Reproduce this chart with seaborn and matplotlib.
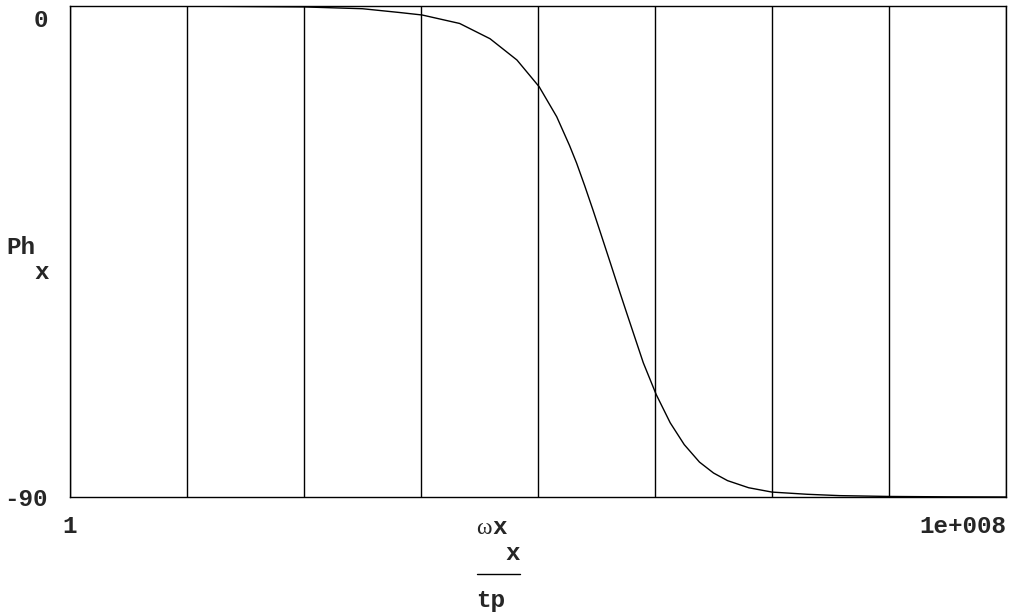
import numpy as np
import pandas as pd
import seaborn as sns
from matplotlib import pyplot as plt
from matplotlib.lines import Line2D
from matplotlib.transforms import ScaledTranslation

# phase curve (log10 of omega, degrees)
log_w = [0.0, 1.0, 2.0, 2.5, 2.82, 3.01, 3.33, 3.59, 3.82, 4.01, 4.16, 4.27, 4.33,
         4.40, 4.47, 4.53, 4.62, 4.70, 4.76, 4.83, 4.90, 5.01, 5.13, 5.25, 5.38,
         5.5, 5.62, 5.8, 6.0, 6.3, 6.58, 7.0, 7.5, 8.0]
phase = [0.0, -0.02, -0.17, -0.5, -1.2, -1.65, -3.2, -6.0, -9.9, -14.8, -20.3, -25.6, -28.8,
         -33.0, -37.4, -41.3, -47.2, -52.5, -56.4, -60.9, -65.4, -71.2, -76.4, -80.4, -83.6,
         -85.6, -87.0, -88.3, -89.1, -89.5, -89.75, -89.9, -89.97, -90.0]
x_ticks = [1, 10, 100, 1e3, 1e4, 1e5, 1e6, 1e7, 1e8]
x_ticklabels = ["1", "", "", "", "", "", "", "", "1e+008"]
y_ticks = [-90, 0]
y_ticklabels = ["-90", "0"]

df = pd.DataFrame({"w": np.power(10.0, log_w), "ph": phase})

sns.set_style("white")
plt.rcParams['font.family'] = ['Liberation Mono', 'DejaVu Sans']
fs = 17.5

fig = plt.figure(figsize=(10.1, 6.16), dpi=100)
ax = fig.add_axes([70/1010, (616-497)/616, 936/1010, 491/616])

sns.lineplot(data=df, x="w", y="ph", ax=ax, color="black", linewidth=1.0)
ax.set_xscale("log")
ax.set_xlim(1, 1e8)
ax.set_ylim(-90, 0)

ax.tick_params(axis="both", length=0)
ax.tick_params(axis="x", pad=13)
ax.tick_params(axis="y", pad=16)

ax.set_xticks(x_ticks)
ax.set_xticklabels(x_ticklabels, fontsize=fs, fontweight="bold")
ax.xaxis.set_minor_locator(plt.NullLocator())
labs = ax.get_xticklabels()
labs[-1].set_horizontalalignment("right")
ax.set_yticks(y_ticks)
ax.set_yticklabels(y_ticklabels, fontsize=fs, fontweight="bold")
# the top label sits a little below the frame, like the original
ylabs = ax.get_yticklabels()
ylabs[1].set_transform(ylabs[1].get_transform() + ScaledTranslation(0, -0.12, fig.dpi_scale_trans))

ax.grid(axis="x", color="black", linewidth=1.0)
ax.grid(axis="y", visible=False)
for s in ax.spines.values():
    s.set_color("black")
    s.set_linewidth(1.0)
ax.set_xlabel("")
ax.set_ylabel("")

# y axis label: Ph with subscript x
fig.text(6/1010, 1-247/616, "Ph", fontsize=fs, fontweight="bold", va="center", ha="left")
fig.text(34/1010, 1-273/616, "x", fontsize=fs, fontweight="bold", va="center", ha="left")

# x axis label: omega_x / tp
fig.text(476/1010, 1-528/616, "\u03c9", fontsize=17, family="Liberation Serif", va="center", ha="left")
fig.text(492/1010, 1-527/616, "x", fontsize=fs, fontweight="bold", va="center", ha="left")
fig.text(505/1010, 1-553/616, "x", fontsize=fs, fontweight="bold", va="center", ha="left")
fig.add_artist(Line2D([477/1010, 520/1010], [1-574/616, 1-574/616], color="black", linewidth=1.0))
fig.text(476/1010, 1-601/616, "tp", fontsize=fs, fontweight="bold", va="center", ha="left")

plt.savefig("out.png", dpi=100)
